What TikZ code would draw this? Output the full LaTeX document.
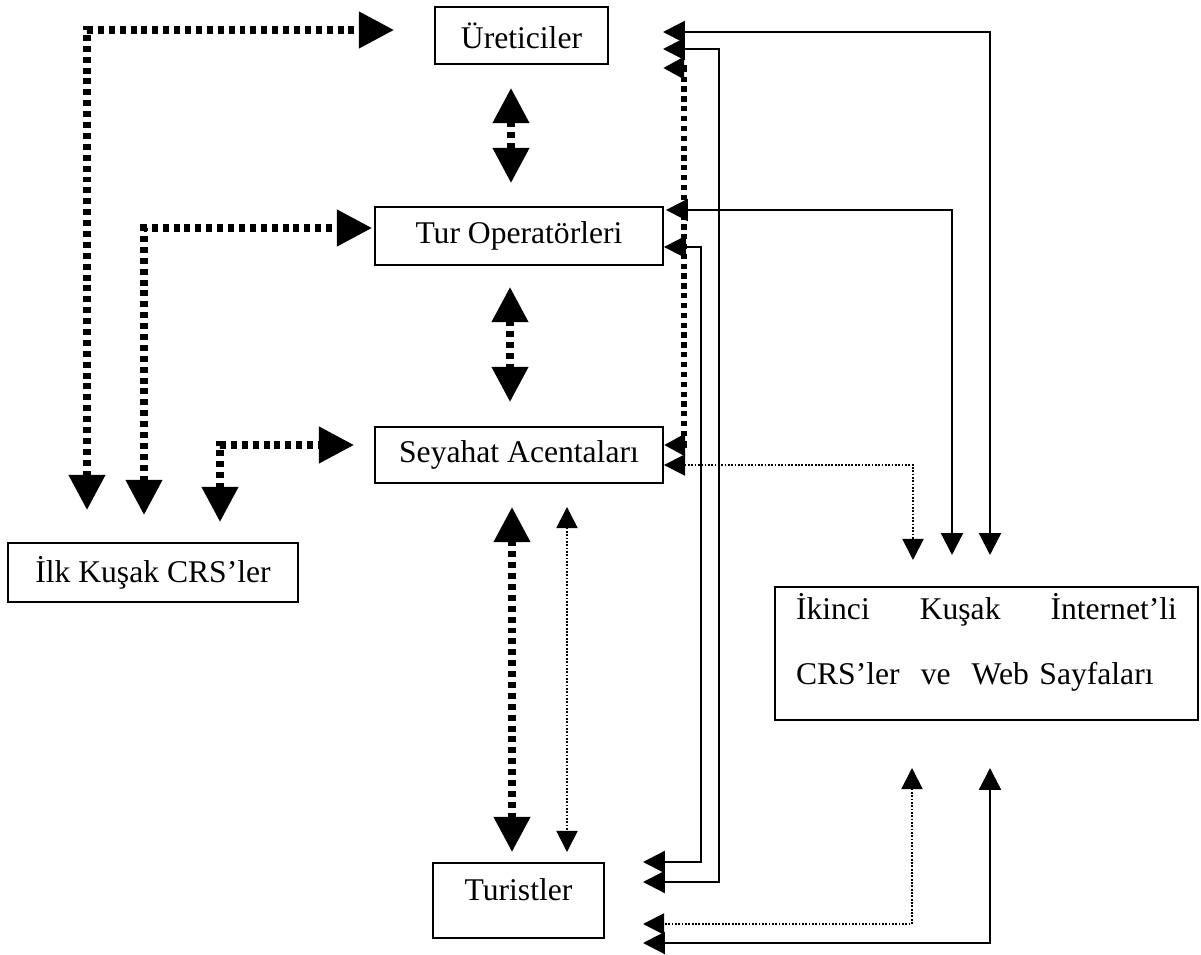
\documentclass[tikz,border=0pt]{standalone}
\usepackage{fontspec}
\setmainfont{Liberation Serif}
\usetikzlibrary{arrows.meta,positioning,calc}

\begin{document}
\begin{tikzpicture}[x=0.02cm,y=-0.02cm,
  kutu/.style={draw,line width=1.1pt,inner sep=0pt,font=\fontsize{18}{22}\selectfont},
  kalin/.style={line width=4pt,dash pattern=on 3.4pt off 2.8pt,<->,>={Triangle[length=20pt,width=20pt]}},
  kalinkucuk/.style={line width=3.6pt,dash pattern=on 3pt off 2.6pt,<->,>={Triangle[length=12pt,width=12pt]}},
  duz/.style={line width=1.3pt,<->,>={Triangle[length=12.5pt,width=12.5pt]}},
  ince/.style={line width=1pt,dash pattern=on 1pt off 0.9pt,<->,>={Triangle[length=12pt,width=12pt]}}]

  \useasboundingbox (0,0) rectangle (1201,955);

  %%% boxes
  \node [kutu,minimum width=3.46cm,minimum height=1.14cm] (uret) at (521.5,35.5) {Üreticiler};
  \node [kutu,minimum width=5.76cm,minimum height=1.16cm] (tur) at (519,236) {Tur Operatörleri};
  \node [kutu,minimum width=5.76cm,minimum height=1.12cm] (sey) at (519,455) {Seyahat Acentaları};
  \node [kutu,minimum width=5.8cm,minimum height=1.18cm] (ilk) at (153,572.5) {İlk Kuşak CRS’ler};
  \node [kutu,minimum width=3.42cm,minimum height=1.5cm,align=center] (turist) at (518.5,900.5) {Turistler\\[-10pt]\mbox{}};
  \node [kutu,minimum width=8.46cm,minimum height=2.66cm,text width=7.62cm,align=left] (ikinci) at (986.5,653.5)
    {\hbox to 7.62cm{İkinci\hfill Kuşak\hfill İnternet’li}\\[15pt]CRS’ler\ \ ve\ \ Web Sayfaları\\[-6pt]\mbox{}};

  %%% free ends
  %% left side
  \coordinate (u1) at ($(uret.west) + (-40,-5.5)$);
  \coordinate (tW) at ($(tur.west) + (-2,-8)$);
  \coordinate (s1) at ($(sey.west) + (-20,-10)$);
  \coordinate (i1) at (87,510);
  \coordinate (i2) at (144,515);
  \coordinate (i3) at (220,522);

  %% middle
  \coordinate (d1) at (511,88);
  \coordinate (d2) at (511,183);
  \coordinate (e1) at (510,287);
  \coordinate (e2) at (510,402);
  \coordinate (f1) at (512,507);
  \coordinate (f2) at (512,852);
  \coordinate (g1) at (567,507);
  \coordinate (g2) at (567,852);

  %% right side
  \coordinate (ur1) at (663,68);
  \coordinate (ur2) at (663,32);
  \coordinate (ur3) at (663,49);
  \coordinate (tE1) at ($(tur.east) + (2,-26)$);
  \coordinate (tE2) at ($(tur.east) + (0,11)$);
  \coordinate (sE1) at ($(sey.east) + (0,-10)$);
  \coordinate (sE2) at ($(sey.east) + (0,10)$);
  \coordinate (k1) at (913,560);
  \coordinate (k2) at (952,555);
  \coordinate (k3) at (990,555);
  \coordinate (k4) at (912,768);
  \coordinate (k5) at (990,768);
  \coordinate (t0) at (643,862);
  \coordinate (t1) at (643,882);
  \coordinate (t2) at (643,924);
  \coordinate (t3) at (643,943);

  %%% connectors
  %% first generation CRS
  \draw[kalin] (i1) |- (u1);
  \draw[kalin] (i2) |- (tW);
  \draw[kalin] (i3) |- (s1);

  %% chain
  \draw[kalin] (d1) -- (d2);
  \draw[kalin] (e1) -- (e2);
  \draw[kalin] (f1) -- (f2);
  \draw[ince] (g1) -- (g2);

  %% second generation CRS
  \draw[kalinkucuk] (ur1) -| ($(sE1) + (20,0)$) -- (sE1);
  \draw[duz] (ur2) -| (k3);
  \draw[duz] (ur3) -| ($(t1) + (76,0)$) -- (t1);
  \draw[duz] (tE1) -| (k2);
  \draw[duz] (tE2) -| ($(t0) + (58,0)$) -- (t0);
  \draw[ince] (sE2) -| (k1);
  \draw[ince] (k4) |- (t2);
  \draw[duz] (k5) |- (t3);

\end{tikzpicture}
\end{document}
